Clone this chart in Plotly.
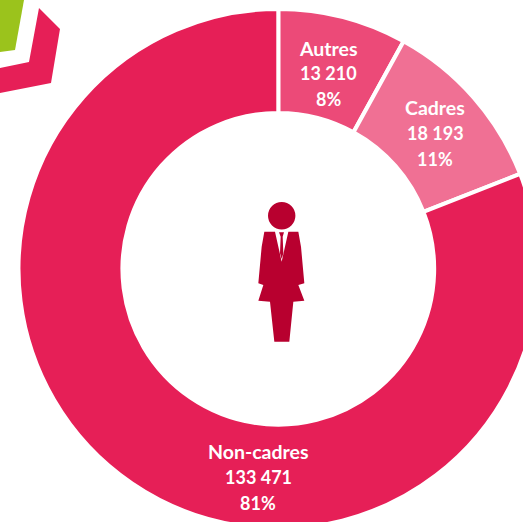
import plotly.graph_objects as go

categories = ["Autres", "Cadres", "Non-cadres"]
values = [13210, 18193, 133471]
value_labels = ["13 210", "18 193", "133 471"]
pct_labels = ["8%", "11%", "81%"]
colors = ["#EC4A78", "#F07094", "#E61F57"]
label_centers = [(328, 73.5), (435, 133), (258, 477)]

W, H = 556, 534
CX, CY, R = 278.3, 268.8, 259.8


def px(x):
    return x / W


def py(y):
    return 1 - y / H


fig = go.Figure(go.Pie(
    labels=categories, values=values, sort=False, direction="clockwise", rotation=0,
    hole=0.6, marker=dict(colors=colors, line=dict(color="white", width=4)),
    textinfo="none", hoverinfo="label+value+percent", showlegend=False,
    domain=dict(x=[px(CX - R), px(CX + R)], y=[py(CY + R), py(CY - R)]),
))


def poly(points, color):
    d = "M" + " L".join(f"{px(x):.5f},{py(y):.5f}" for x, y in points) + " Z"
    return dict(type="path", xref="paper", yref="paper", path=d,
                fillcolor=color, line=dict(width=0), layer="above")


def icon(points):
    return [(230 + x / 3, 190 + y / 3) for x, y in points]


ICON = "#B8002F"
shapes = [
    poly([(0, 0), (24, 0), (15, 50), (0, 52)], "#9BC31C"),
    poly([(39, 8), (60, 29), (51, 83), (0, 93), (0, 68), (29, 62)], "#E61F57"),
    dict(type="circle", xref="paper", yref="paper",
         x0=px(268), x1=px(295.4), y0=py(229.4), y1=py(202),
         fillcolor=ICON, line=dict(width=0), layer="above"),
    poly(icon([(103, 125), (135, 125), (155, 215), (175, 125), (205, 125), (213, 170),
               (223, 280), (205, 285), (223, 332), (190, 335), (178, 455), (133, 455),
               (120, 335), (85, 332), (100, 285), (85, 280), (95, 170)]), ICON),
    poly(icon([(147, 127), (162, 127), (158, 140), (160, 190), (155, 207), (150, 190), (152, 140)]), ICON),
]
fig.update_layout(shapes=shapes)

for cat, val, pct, (x, y) in zip(categories, value_labels, pct_labels, label_centers):
    for i, (line, size) in enumerate(((cat, 19.5), (val, 18), (pct, 18))):
        fig.add_annotation(text=f"<b>{line}</b>", xref="paper", yref="paper",
                           x=px(x), y=py(y + (i - 1) * 25.5), showarrow=False,
                           xanchor="center", yanchor="middle",
                           font=dict(family="Lato", size=size, color="white"))

fig.update_layout(width=W, height=H, margin=dict(l=0, r=0, t=0, b=0),
                  paper_bgcolor="white", plot_bgcolor="white")
fig.write_html("out.html", config=dict(displayModeBar=False), post_script=(
    "document.body.style.margin='0';document.body.style.overflow='hidden';"
    "document.documentElement.style.overflow='hidden';"))
